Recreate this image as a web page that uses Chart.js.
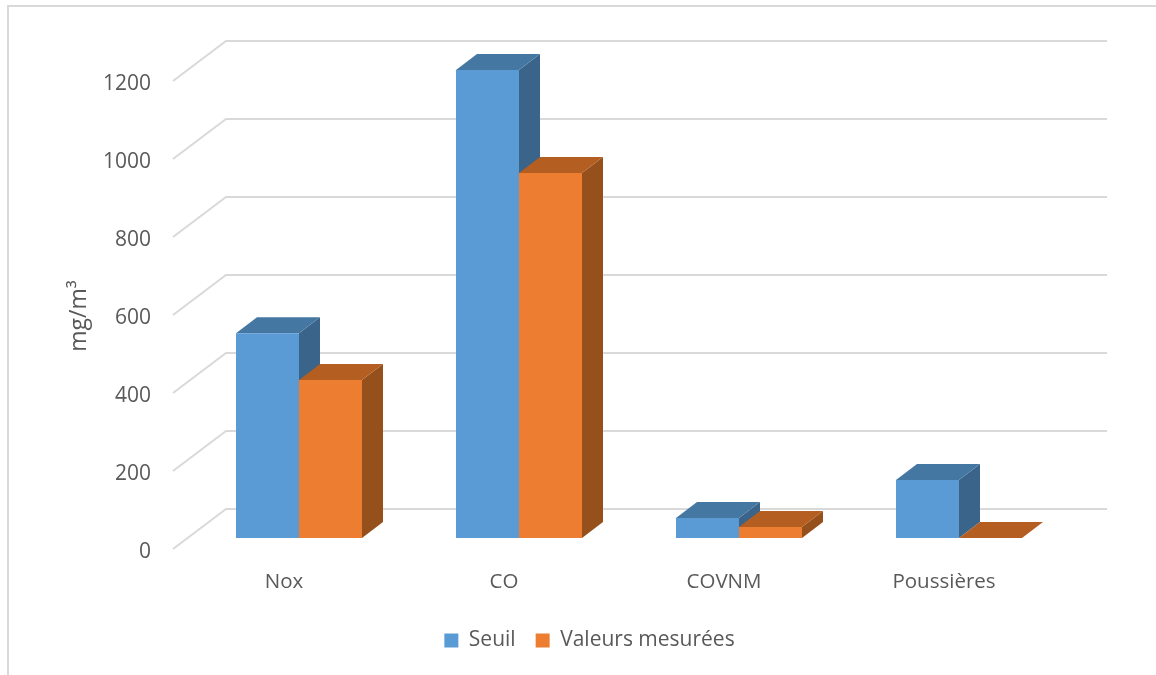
<!DOCTYPE html>
<html>
<head>
<meta charset="utf-8">
<script src="https://cdn.jsdelivr.net/npm/chart.js@4"></script>
<style>
  body { margin: 0; background: #fff; }
  #frame { position: absolute; left: 7px; top: 5px; right: 0; bottom: 0; border-left: 2px solid #d9d9d9; border-top: 2px solid #d9d9d9; }
  #chart { position: absolute; left: 0; top: 0; }
</style>
</head>
<body>
<div id="frame"></div>
<canvas id="chart" width="1156" height="675"></canvas>
<script>
const categories = ['Nox', 'CO', 'COVNM', 'Poussières'];
const seuil = [525, 1200, 51, 149];
const mesurees = [405, 936, 28, 0];
const yTicks = [0, 200, 400, 600, 800, 1000, 1200];

const textColor = '#595959';
const fontName = '"Open Sans"';

// depth of the fake 3D bars, in pixels
const barDepthX = 21;
const barDepthY = 16;

function face(ctx, color, points) {
    ctx.fillStyle = color;
    ctx.beginPath();
    ctx.moveTo(points[0][0], points[0][1]);
    for (let i = 1; i < points.length; i++)
        ctx.lineTo(points[i][0], points[i][1]);
    ctx.closePath();
    ctx.fill();
}

// back wall and floor lines, then top and side of each bar
const depthPlugin = {
    id: 'depth',
    afterLayout(chart) {
        // legend sits right of the plot centre in the original
        chart.legend.left += 22;
        chart.legend.right += 22;
    },
    beforeDatasetsDraw(chart) {
        const ctx = chart.ctx;
        const area = chart.chartArea;
        const y = chart.scales.y;

        ctx.save();
        ctx.strokeStyle = '#d9d9d9';
        ctx.lineWidth = 2;
        yTicks.forEach(v => {
            const p = y.getPixelForValue(v);
            ctx.beginPath();
            ctx.moveTo(area.left - 16, p + 11);
            ctx.lineTo(area.left + 37, p - 29);
            ctx.lineTo(area.right + 38, p - 29);
            ctx.stroke();
        });

        const colors = [
            {top: '#4577a3', side: '#3a6489'},
            {top: '#b55e21', side: '#95501b'}
        ];
        chart.data.datasets.forEach((ds, i) => {
            chart.getDatasetMeta(i).data.forEach(bar => {
                const l = bar.x - bar.width / 2;
                const r = bar.x + bar.width / 2;
                const t = bar.y;
                const b = bar.base;
                face(ctx, colors[i].side, [[r, t], [r + barDepthX, t - barDepthY], [r + barDepthX, b - barDepthY], [r, b]]);
                face(ctx, colors[i].top, [[l, t], [l + barDepthX, t - barDepthY], [r + barDepthX, t - barDepthY], [r, t]]);
            });
        });
        ctx.restore();
    }
};

new Chart(document.getElementById('chart'), {
    type: 'bar',
    data: {
        labels: categories,
        datasets: [
            {label: 'Seuil', data: seuil, backgroundColor: '#5b9bd5', categoryPercentage: 126 / 220, barPercentage: 1},
            {label: 'Valeurs mesurées', data: mesurees, backgroundColor: '#ed7d31', categoryPercentage: 126 / 220, barPercentage: 1}
        ]
    },
    options: {
        responsive: false,
        animation: false,
        layout: {padding: {left: 66, right: 87, top: 70, bottom: 14}},
        plugins: {
            tooltip: {enabled: false},
            legend: {
                position: 'bottom',
                labels: {
                    boxWidth: 14,
                    boxHeight: 14,
                    padding: 20,
                    color: textColor,
                    font: {family: fontName, size: 21}
                }
            }
        },
        scales: {
            x: {
                grid: {display: false},
                border: {display: false},
                afterFit(scale) { scale.height = 72; },
                ticks: {color: textColor, font: {family: fontName, size: 20.5}, labelOffset: -15, padding: 24, maxRotation: 0}
            },
            y: {
                min: 0,
                max: 1200,
                grid: {display: false},
                border: {display: false},
                afterFit(scale) { scale.width = 123; },
                afterBuildTicks(scale) { scale.ticks = yTicks.map(v => ({value: v})); },
                ticks: {color: textColor, font: {family: fontName, size: 21}, labelOffset: 14, padding: 30, callback: v => String(v)},
                title: {display: true, text: 'mg/m³    ', color: textColor, font: {family: fontName, size: 23}, padding: 0}
            }
        }
    },
    plugins: [depthPlugin]
});
</script>
</body>
</html>
